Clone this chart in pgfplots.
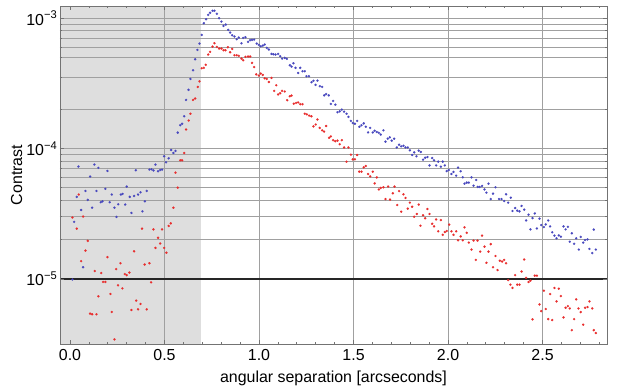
\documentclass[border=0pt]{standalone}
\usepackage{fontspec}
\setmainfont{Liberation Sans}
\usepackage{pgfplots}
\usepackage{pgfplotstable}
\pgfplotsset{compat=1.18}
\definecolor{bluept}{RGB}{72,72,190}
\definecolor{redpt}{RGB}{232,45,45}
\definecolor{gridc}{RGB}{160,160,160}
\definecolor{greyzone}{RGB}{222,222,222}
\definecolor{framec}{RGB}{115,115,115}

\pgfplotstableread{
x y
0.013 9.9e-6
0.0217 2.74e-5
0.0358 4.26e-5
0.0446 7.28e-5
0.0587 3.38e-5
0.0693 1.23e-5
0.0817 4.73e-5
0.094 4.04e-5
0.1064 6.1e-5
0.117 3.52e-5
0.129 7.54e-5
0.14 4.73e-5
0.150 7.11e-5
0.163 3.88e-5
0.172 3.94e-5
0.187 4.91e-5
0.198 6.74e-5
0.210 3.88e-5
0.221 4.44e-5
0.235 3.52e-5
0.246 2.99e-5
0.255 3.74e-5
0.269 4.44e-5
0.278 4.49e-5
0.292 3.72e-5
0.300 5.11e-5
0.316 4.26e-5
0.325 3.21e-5
0.339 4.33e-5
0.348 6.82e-5
0.360 4.44e-5
0.373 4.62e-5
0.383 3.30e-5
0.396 3.94e-5
0.406 4.73e-5
0.420 6.9e-5
0.431 6.94e-5
0.4415 6.8e-5
0.452 7.53e-5
0.466 6.7e-5
0.477 6.85e-5
0.487 6.9e-5
0.498 8.73e-5
0.508 7.85e-5
0.522 8.42e-5
0.535 9.75e-5
0.547 9.25e-5
0.558 9.59e-5
0.570 1.325e-4
0.583 1.51e-4
0.593 1.55e-4
0.604 1.77e-4
0.614 2.36e-4
0.627 2.82e-4
0.637 3.42e-4
0.651 3.99e-4
0.662 4.84e-4
0.674 5.71e-4
0.685 6.39e-4
0.697 7.44e-4
0.708 9.15e-4
0.720 9.82e-4
0.731 1.06e-3
0.741 1.10e-3
0.754 1.14e-3
0.764 1.14e-3
0.777 1.08e-3
0.789 1.0e-3
0.801 9.42e-4
0.812 8.72e-4
0.824 8.93e-4
0.837 8.13e-4
0.847 7.76e-4
0.858 7.4e-4
0.870 7.23e-4
0.882 6.9e-4
0.893 7.1e-4
0.907 6.42e-4
0.916 7.06e-4
0.928 7.15e-4
0.942 6.58e-4
0.953 6.78e-4
0.963 6.82e-4
0.974 6.85e-4
0.988 6.39e-4
0.999 6.24e-4
1.009 6.09e-4
1.020 6.16e-4
1.030 6.28e-4
1.041 5.92e-4
1.052 5.75e-4
1.066 5.32e-4
1.076 5.29e-4
1.087 5.26e-4
1.101 5.32e-4
1.112 5.11e-4
1.122 4.90e-4
1.136 4.96e-4
1.147 4.88e-4
1.163 4.36e-4
1.172 4.25e-4
1.182 4.51e-4
1.193 4.16e-4
1.207 3.80e-4
1.218 4.16e-4
1.230 3.92e-4
1.242 3.92e-4
1.251 3.59e-4
1.264 3.59e-4
1.278 3.23e-4
1.288 3.31e-4
1.299 3.08e-4
1.309 3.32e-4
1.322 3.01e-4
1.334 2.97e-4
1.345 2.56e-4
1.355 2.62e-4
1.369 2.56e-4
1.380 2.20e-4
1.392 2.32e-4
1.404 2.17e-4
1.415 1.90e-4
1.427 1.93e-4
1.438 1.99e-4
1.450 1.92e-4
1.463 1.85e-4
1.473 1.75e-4
1.486 1.63e-4
1.496 1.57e-4
1.507 1.55e-4
1.519 1.63e-4
1.531 1.47e-4
1.542 1.51e-4
1.554 1.56e-4
1.565 1.47e-4
1.577 1.33e-4
1.588 1.44e-4
1.602 1.33e-4
1.612 1.37e-4
1.623 1.34e-4
1.634 1.32e-4
1.644 1.28e-4
1.658 1.38e-4
1.669 1.13e-4
1.681 1.19e-4
1.692 1.22e-4
1.702 1.15e-4
1.715 1.19e-4
1.729 1.02e-4
1.741 1.07e-4
1.752 1.04e-4
1.764 1.05e-4
1.775 1.02e-4
1.787 1.02e-4
1.798 9.70e-5
1.810 8.93e-5
1.821 9.35e-5
1.833 8.73e-5
1.845 9.64e-5
1.856 9.42e-5
1.868 8.22e-5
1.879 8.51e-5
1.891 8.61e-5
1.902 7.43e-5
1.916 8.46e-5
1.926 8.13e-5
1.937 7.43e-5
1.948 7.94e-5
1.962 7.26e-5
1.972 7.94e-5
1.983 7.43e-5
1.993 6.72e-5
2.004 6.85e-5
2.018 6.38e-5
2.029 6.62e-5
2.043 6.20e-5
2.053 7.14e-5
2.067 6.70e-5
2.078 6.02e-5
2.087 5.38e-5
2.099 5.48e-5
2.110 5.48e-5
2.124 6.02e-5
2.135 5.19e-5
2.149 5.74e-5
2.157 5.08e-5
2.167 5.08e-5
2.180 5.17e-5
2.193 4.86e-5
2.203 4.59e-5
2.214 5.38e-5
2.226 4.10e-5
2.238 4.51e-5
2.251 5.05e-5
2.270 4.10e-5
2.283 4.10e-5
2.297 3.96e-5
2.307 4.46e-5
2.318 3.85e-5
2.332 4.20e-5
2.341 3.32e-5
2.355 3.50e-5
2.366 3.34e-5
2.378 3.30e-5
2.389 3.63e-5
2.403 3.40e-5
2.413 2.81e-5
2.426 3.11e-5
2.436 2.40e-5
2.447 2.93e-5
2.459 3.18e-5
2.470 2.44e-5
2.484 2.90e-5
2.493 2.59e-5
2.507 2.50e-5
2.517 2.62e-5
2.530 2.81e-5
2.540 2.53e-5
2.551 2.28e-5
2.563 2.15e-5
2.574 2.05e-5
2.586 2.16e-5
2.597 2.11e-5
2.611 2.53e-5
2.622 2.40e-5
2.634 2.51e-5
2.644 1.93e-5
2.655 2.24e-5
2.667 1.86e-5
2.678 2.05e-5
2.692 1.68e-5
2.702 2.10e-5
2.715 1.90e-5
2.725 1.99e-5
2.738 2.01e-5
2.748 1.70e-5
2.763 1.58e-5
2.771 2.39e-5
2.782 1.68e-5
}\bluedata

\pgfplotstableread{
x y
0.0129 2.96e-5
0.0358 2.43e-5
0.0464 4.44e-5
0.0587 1.37e-5
0.0693 3.01e-5
0.0817 1.65e-5
0.094 1.96e-5
0.106 5.42e-6
0.117 5.36e-6
0.131 1.15e-5
0.140 5.36e-6
0.150 7.36e-6
0.165 1.11e-5
0.175 9.49e-6
0.187 9.49e-6
0.198 1.47e-5
0.214 7.67e-6
0.221 5.58e-6
0.235 3.44e-6
0.244 1.19e-5
0.254 8.94e-6
0.267 1.32e-5
0.277 8.47e-6
0.290 1.09e-5
0.300 1.07e-5
0.314 1.12e-5
0.325 5.78e-6
0.339 1.63e-5
0.350 6.82e-6
0.360 5.85e-6
0.373 6.43e-6
0.381 2.43e-5
0.395 1.29e-5
0.406 5.85e-6
0.420 1.32e-5
0.429 9.42e-6
0.4415 2.40e-5
0.452 1.73e-5
0.466 2.07e-5
0.477 1.87e-5
0.487 2.40e-5
0.498 1.73e-5
0.510 1.59e-5
0.522 2.55e-5
0.533 2.67e-5
0.547 3.52e-5
0.558 6.53e-5
0.570 5.01e-5
0.583 8.13e-5
0.593 8.13e-5
0.604 9.25e-5
0.614 1.40e-4
0.628 1.64e-4
0.637 1.85e-4
0.651 2.36e-4
0.662 2.42e-4
0.676 2.97e-4
0.685 3.28e-4
0.697 4.13e-4
0.708 4.16e-4
0.718 4.39e-4
0.731 5.26e-4
0.741 5.52e-4
0.754 6.05e-4
0.764 6.43e-4
0.777 6.02e-4
0.789 5.85e-4
0.801 5.85e-4
0.812 5.68e-4
0.822 5.68e-4
0.835 5.99e-4
0.847 5.48e-4
0.858 5.81e-4
0.870 5.20e-4
0.882 5.20e-4
0.893 5.14e-4
0.907 4.90e-4
0.916 4.76e-4
0.928 5.05e-4
0.942 5.08e-4
0.953 5.08e-4
0.963 4.54e-4
0.974 4.22e-4
0.985 3.71e-4
0.999 3.63e-4
1.009 3.76e-4
1.020 3.67e-4
1.030 3.46e-4
1.041 3.42e-4
1.052 3.24e-4
1.066 3.48e-4
1.080 2.77e-4
1.091 3.06e-4
1.101 2.60e-4
1.112 2.66e-4
1.122 2.77e-4
1.136 2.74e-4
1.149 2.35e-4
1.163 2.52e-4
1.172 2.55e-4
1.184 2.21e-4
1.196 2.24e-4
1.207 2.26e-4
1.218 2.19e-4
1.230 2.19e-4
1.242 1.85e-4
1.253 1.83e-4
1.265 1.79e-4
1.277 1.77e-4
1.288 1.48e-4
1.300 1.53e-4
1.309 1.67e-4
1.321 1.44e-4
1.334 1.38e-4
1.344 1.35e-4
1.355 1.49e-4
1.371 1.21e-4
1.380 1.24e-4
1.392 1.16e-4
1.403 1.14e-4
1.415 1.15e-4
1.427 1.08e-4
1.438 1.16e-4
1.450 1.02e-4
1.463 7.93e-5
1.473 1.02e-4
1.486 8.98e-5
1.496 8.27e-5
1.507 8.27e-5
1.519 8.93e-5
1.530 6.65e-5
1.542 6.65e-5
1.554 7.18e-5
1.565 7.35e-5
1.577 6.38e-5
1.588 6.12e-5
1.602 6.65e-5
1.612 5.41e-5
1.623 6.01e-5
1.634 4.86e-5
1.644 4.99e-5
1.658 5.05e-5
1.669 4.10e-5
1.683 5.11e-5
1.693 4.06e-5
1.708 4.54e-5
1.717 5.11e-5
1.731 3.69e-5
1.741 4.72e-5
1.752 3.28e-5
1.764 4.46e-5
1.775 4.18e-5
1.787 3.46e-5
1.798 3.85e-5
1.810 3.58e-5
1.821 3.00e-5
1.835 3.15e-5
1.845 3.72e-5
1.854 2.56e-5
1.868 3.08e-5
1.879 2.92e-5
1.891 3.44e-5
1.902 3.15e-5
1.916 2.65e-5
1.926 2.53e-5
1.937 2.86e-5
1.948 2.32e-5
1.962 2.83e-5
1.972 2.18e-5
1.983 2.29e-5
1.993 2.33e-5
2.006 2.61e-5
2.018 2.32e-5
2.029 2.18e-5
2.043 2.32e-5
2.053 1.98e-5
2.067 2.12e-5
2.078 1.98e-5
2.087 2.49e-5
2.099 2.26e-5
2.110 1.90e-5
2.124 1.68e-5
2.135 1.97e-5
2.147 1.40e-5
2.156 1.97e-5
2.170 1.62e-5
2.180 2.15e-5
2.193 1.77e-5
2.203 1.33e-5
2.214 1.62e-5
2.226 1.85e-5
2.238 1.23e-5
2.251 1.50e-5
2.262 1.17e-5
2.274 1.38e-5
2.286 1.36e-5
2.297 1.40e-5
2.307 1.32e-5
2.318 9.8e-6
2.330 9.04e-6
2.341 8.53e-6
2.355 1.07e-5
2.366 9.04e-6
2.378 9.04e-6
2.389 1.14e-5
2.403 1.41e-5
2.413 1.02e-5
2.426 9.48e-6
2.436 9.71e-6
2.447 4.90e-6
2.459 1.06e-5
2.470 1.06e-5
2.484 6.38e-6
2.493 5.67e-6
2.507 8.13e-6
2.517 5.88e-6
2.530 4.92e-6
2.540 7.66e-6
2.551 4.84e-6
2.563 8.53e-6
2.574 6.73e-6
2.586 8.42e-6
2.597 7.39e-6
2.611 5.07e-6
2.622 6.01e-6
2.634 6.19e-6
2.644 5.94e-6
2.655 4.05e-6
2.667 4.92e-6
2.678 6.97e-6
2.690 5.94e-6
2.702 5.57e-6
2.715 4.46e-6
2.725 6.01e-6
2.738 6.09e-6
2.748 6.73e-6
2.763 5.94e-6
2.771 4.05e-6
2.782 3.85e-6
}\reddata

\begin{document}
\begin{tikzpicture}
\path[use as bounding box] (-60bp,-46bp) rectangle (581bp,344bp);
\begin{axis}[
  at={(0,0)}, anchor=south west,
  scale only axis, width=547bp, height=338bp,
  xmin=-0.053, xmax=2.841,
  ymode=log, ymin=3.17e-6, ymax=1.24e-3,
  axis on top,
  axis line style={draw=framec, line width=0.8bp},
  every tick/.style={draw=framec, line width=0.7bp},
  tick align=inside,
  major tick length=4.5bp, minor tick length=2.5bp,
  xtick={0,0.5,1,1.5,2,2.5},
  xticklabels={0.0,0.5,1.0,1.5,2.0,2.5},
  minor xtick={0.1,0.2,0.3,0.4,0.6,0.7,0.8,0.9,1.1,1.2,1.3,1.4,1.6,1.7,1.8,1.9,2.1,2.2,2.3,2.4,2.6,2.7,2.8},
  ytick={1e-5,1e-4,1e-3},
  yticklabels={10\textsuperscript{−5},10\textsuperscript{−4},10\textsuperscript{−3}},
  minor ytick={2e-5,3e-5,4e-5,5e-5,6e-5,7e-5,8e-5,9e-5,2e-4,3.5e-4,5e-4,6e-4,7e-4,8e-4,9e-4},
  tick label style={font=\fontsize{16}{19}\selectfont, text=black},
  xticklabel style={inner sep=0pt, anchor=north, yshift=-5bp},
  yticklabel style={inner sep=0pt, anchor=east, xshift=-2.5bp},
  xlabel={angular separation [arcseconds]},
  ylabel={Contrast},
  label style={font=\fontsize{16}{19}\selectfont, text=black},
  xlabel style={at={(axis description cs:0.5,0)}, anchor=north, inner sep=0pt, yshift=-26.5bp},
  ylabel style={at={(axis description cs:-0.0795,0.5)}, anchor=center, inner sep=0pt},
]
\fill[fill=greyzone] (axis cs:-0.053,3.17e-6) rectangle (axis cs:0.693,1.24e-3);
\pgfplotsinvokeforeach{2e-5,3e-5,4e-5,5e-5,6e-5,7e-5,8e-5,9e-5,1e-4,2e-4,3.5e-4,5e-4,6e-4,7e-4,8e-4,9e-4,1e-3}{
  \draw[gridc, line width=0.8bp] (axis cs:-0.053,#1) -- (axis cs:2.841,#1);
}
\pgfplotsinvokeforeach{0.5,1,1.5,2,2.5}{
  \draw[gridc, line width=0.8bp] (axis cs:#1,3.17e-6) -- (axis cs:#1,1.24e-3);
}
\draw[black!85, line width=1.3bp] (axis cs:-0.053,1e-5) -- (axis cs:2.841,1e-5);
\addplot[bluept, only marks, mark=*, mark size=1.15bp, mark options={solid, fill=bluept, draw=bluept, line width=0.1bp}] table[x=x, y=y] {\bluedata};
\addplot[redpt, only marks, mark=*, mark size=1.15bp, mark options={solid, fill=redpt, draw=redpt, line width=0.1bp}] table[x=x, y=y] {\reddata};
\node[anchor=west, inner sep=0pt, xshift=2.5bp, font=\fontsize{16}{19}\selectfont] at (axis cs:2.841,1e-3) {10\textsuperscript{−3}};
\node[anchor=west, inner sep=0pt, xshift=2.5bp, font=\fontsize{16}{19}\selectfont] at (axis cs:2.841,1e-4) {10\textsuperscript{−4}};
\node[anchor=west, inner sep=0pt, xshift=2.5bp, font=\fontsize{16}{19}\selectfont] at (axis cs:2.841,1e-5) {10\textsuperscript{−5}};
\end{axis}
\end{tikzpicture}
\end{document}
